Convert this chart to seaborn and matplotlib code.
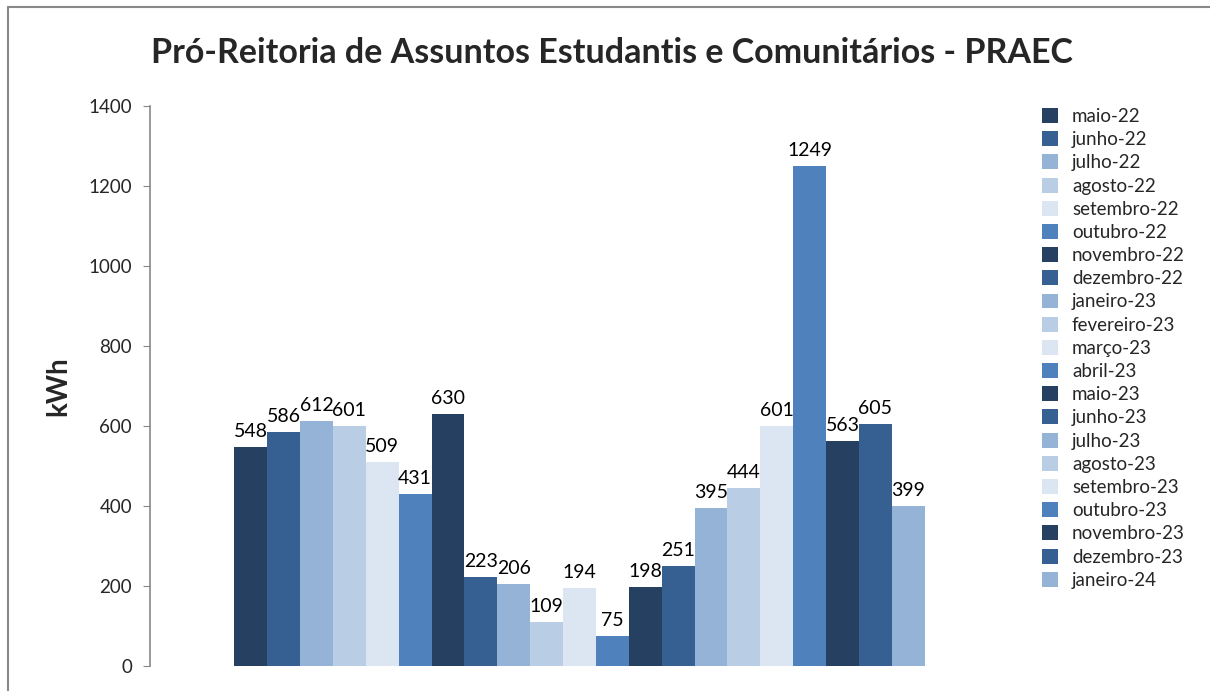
import pandas as pd
import matplotlib
matplotlib.use("Agg")
import matplotlib.pyplot as plt
import seaborn as sns
from matplotlib.lines import Line2D

months = ['maio-22', 'junho-22', 'julho-22', 'agosto-22', 'setembro-22', 'outubro-22',
          'novembro-22', 'dezembro-22', 'janeiro-23', 'fevereiro-23', 'março-23', 'abril-23',
          'maio-23', 'junho-23', 'julho-23', 'agosto-23', 'setembro-23', 'outubro-23',
          'novembro-23', 'dezembro-23', 'janeiro-24']
kwh = [548, 586, 612, 601, 509, 431, 630, 223, 206, 109, 194, 75,
       198, 251, 395, 444, 601, 1249, 563, 605, 399]
base_colors = ['#254061', '#376092', '#95B3D7', '#B9CDE5', '#DCE6F2', '#4F81BD']

palette = [base_colors[i % len(base_colors)] for i in range(len(months))]

df = pd.DataFrame({'grupo': ['PRAEC'] * len(months), 'mes': months, 'kWh': kwh})

sns.set_style('white')
plt.rcParams['font.family'] = ['Lato', 'DejaVu Sans']

fig = plt.figure(figsize=(12.1, 6.91), dpi=100)
ax = fig.add_axes([150 / 1210, 1 - 666 / 691, 859 / 1210, 560 / 691])

sns.barplot(data=df, x='grupo', y='kWh', hue='mes', palette=palette,
            width=0.804, saturation=1, ax=ax, errorbar=None, linewidth=0)

for cont in ax.containers:
    ax.bar_label(cont, fontsize=14, padding=5, color='black')

ax.set_ylim(0, 1400)
ax.set_xlim(-0.5, 0.5)
ax.set_yticks(range(0, 1401, 200))
ax.tick_params(axis='y', labelsize=13.5, length=5, color='#888888', direction='out', left=True, pad=8)
ax.set_xticks([])
ax.set_xlabel('')
ax.set_ylabel('kWh', fontsize=20, fontweight='bold', labelpad=12)
for side in ['top', 'right', 'bottom']:
    ax.spines[side].set_visible(False)
ax.spines['left'].set_color('#888888')
ax.spines['left'].set_linewidth(1.2)

sns.move_legend(ax, 'upper left', bbox_to_anchor=(1042 / 1210, 1 - 108 / 691),
                bbox_transform=fig.transFigure, frameon=False, title=None,
                fontsize=13.5, handlelength=0.85, handleheight=0.85, handletextpad=0.75,
                labelspacing=0.33, borderpad=0, borderaxespad=0)

fig.text(612 / 1210, 1 - 53 / 691, 'Pró-Reitoria de Assuntos Estudantis e Comunitários - PRAEC',
         ha='center', va='center', fontsize=24.5, fontweight='bold')

# chart frame (left and top edges visible)
fig.add_artist(Line2D([8 / 1210, 8 / 1210], [0, 1 - 7 / 691], transform=fig.transFigure,
                      color='#888888', linewidth=1.5))
fig.add_artist(Line2D([8 / 1210, 1], [1 - 7 / 691, 1 - 7 / 691], transform=fig.transFigure,
                      color='#888888', linewidth=1.5))

fig.savefig('out.png', dpi=100)
